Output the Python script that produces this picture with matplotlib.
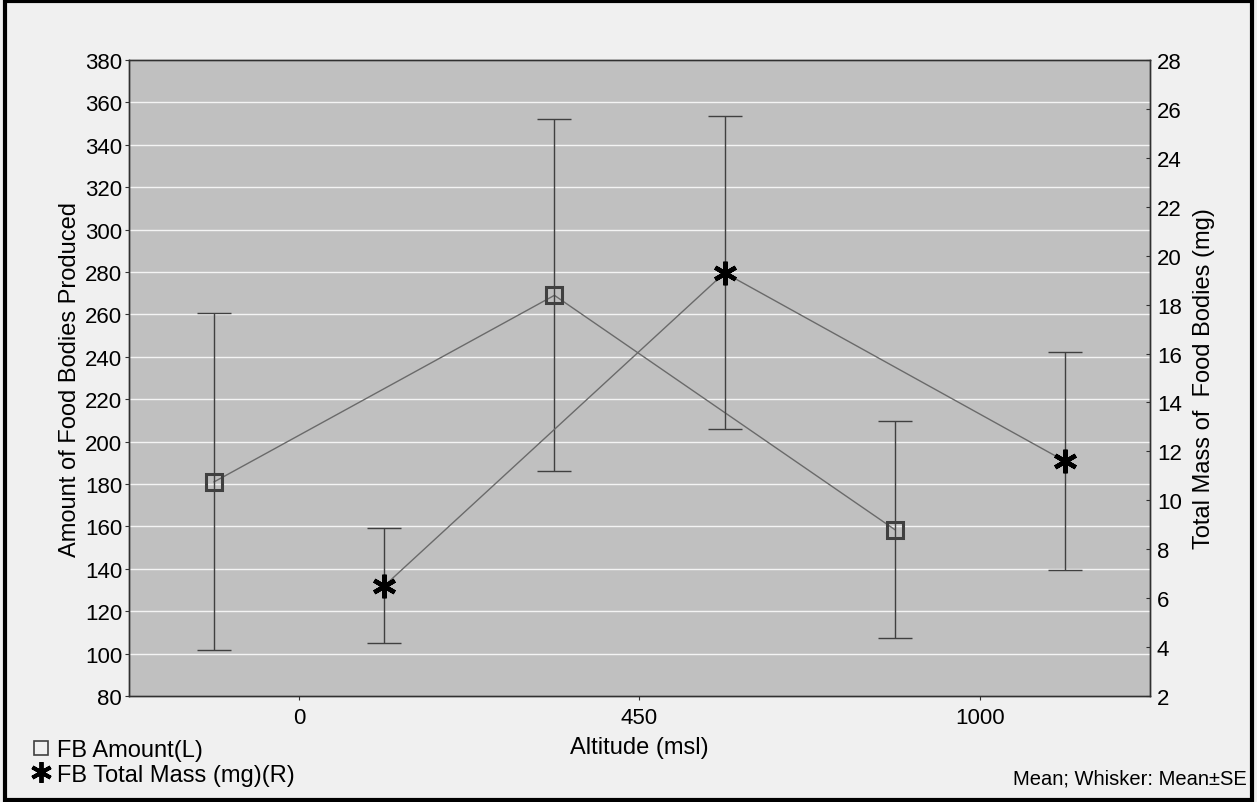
import matplotlib.pyplot as plt
from matplotlib.patches import Rectangle
from matplotlib.lines import Line2D

plt.rcParams["font.family"] = ["Liberation Sans", "DejaVu Sans"]

# altitude classes on the x axis
altitudes = ["0", "450", "1000"]

# FB amount (left axis): mean and standard error
amount_mean = [181, 269, 158.5]
amount_se = [79.5, 83, 51]

# FB total mass in mg (right axis): mean and standard error
mass_mean = [6.5, 19.3, 11.6]
mass_se = [2.35, 6.4, 4.45]

x = list(range(len(altitudes)))
offset = 0.25

fig = plt.figure(figsize=(12.57, 8.03), dpi=100, facecolor="#f0f0f0")
ax = fig.add_axes([0.1026, 0.132, 0.8123, 0.792])
ax.set_facecolor("#c0c0c0")
ax2 = ax.twinx()

xa = [v - offset for v in x]
xm = [v + offset for v in x]

# left series: connecting line, whiskers, open squares
ax.plot(xa, amount_mean, color="#6a6a6a", lw=1.0, zorder=2)
ax.errorbar(xa, amount_mean, yerr=amount_se, fmt="none", ecolor="#404040",
            elinewidth=1.0, capsize=12, capthick=1.0, zorder=3)
ax.plot(xa, amount_mean, ls="none", marker="s", ms=12, mfc="none",
        mec="#404040", mew=2.2, zorder=4)

# right series: connecting line, whiskers, asterisks
ax2.plot(xm, mass_mean, color="#6a6a6a", lw=1.0, zorder=2)
ax2.errorbar(xm, mass_mean, yerr=mass_se, fmt="none", ecolor="#404040",
             elinewidth=1.0, capsize=12, capthick=1.0, zorder=3)
ax2.plot(xm, mass_mean, ls="none", marker=(6, 2, 0), ms=17, mec="black",
         mew=3.2, zorder=4)

ax.set_xlim(-0.5, 2.5)
ax.set_ylim(80, 380)
ax.set_yticks(range(80, 381, 20))
ax2.set_ylim(2, 28)
ax2.set_yticks(range(2, 29, 2))
ax.set_xticks(x)
ax.set_xticklabels(altitudes)

ax.grid(axis="y", color="#f4f4f4", lw=1.0)
ax.set_axisbelow(True)
for a in (ax, ax2):
    for s in a.spines.values():
        s.set_color("#303030")
        s.set_linewidth(1.0)
    a.tick_params(labelsize=16, length=3, width=0.8, color="#303030", pad=2)
ax.tick_params(axis="x", pad=5)
ax2.tick_params(axis="y", direction="in", pad=5)

ax.set_xlabel("Altitude (msl)", fontsize=17, labelpad=6)
ax.set_ylabel("Amount of Food Bodies Produced", fontsize=17, labelpad=3)
ax2.set_ylabel("Total Mass of  Food Bodies (mg)", fontsize=17, labelpad=8)

# legend handles: square and asterisk symbols
h1 = Line2D([], [], ls="none", marker="s", ms=10, mfc="none", mec="#404040", mew=1.2)
h2 = Line2D([], [], ls="none", marker=(6, 2, 0), ms=15, mec="black", mew=2.8)
fig.legend([h1, h2], ["FB Amount(L)", "FB Total Mass (mg)(R)"], loc="lower left",
           bbox_to_anchor=(0.008, -0.006), frameon=False, fontsize=17,
           handlelength=0.8, handletextpad=0.3, labelspacing=0.1)

fig.text(0.992, 0.03, "Mean; Whisker: Mean\u00b1SE", ha="right", va="center",
         fontsize=14.5)

fig.patches.append(Rectangle((0.004, 0.003), 0.992, 0.994, transform=fig.transFigure,
                             fill=False, ec="black", lw=3))

fig.savefig("out.png", dpi=100, facecolor=fig.get_facecolor())
